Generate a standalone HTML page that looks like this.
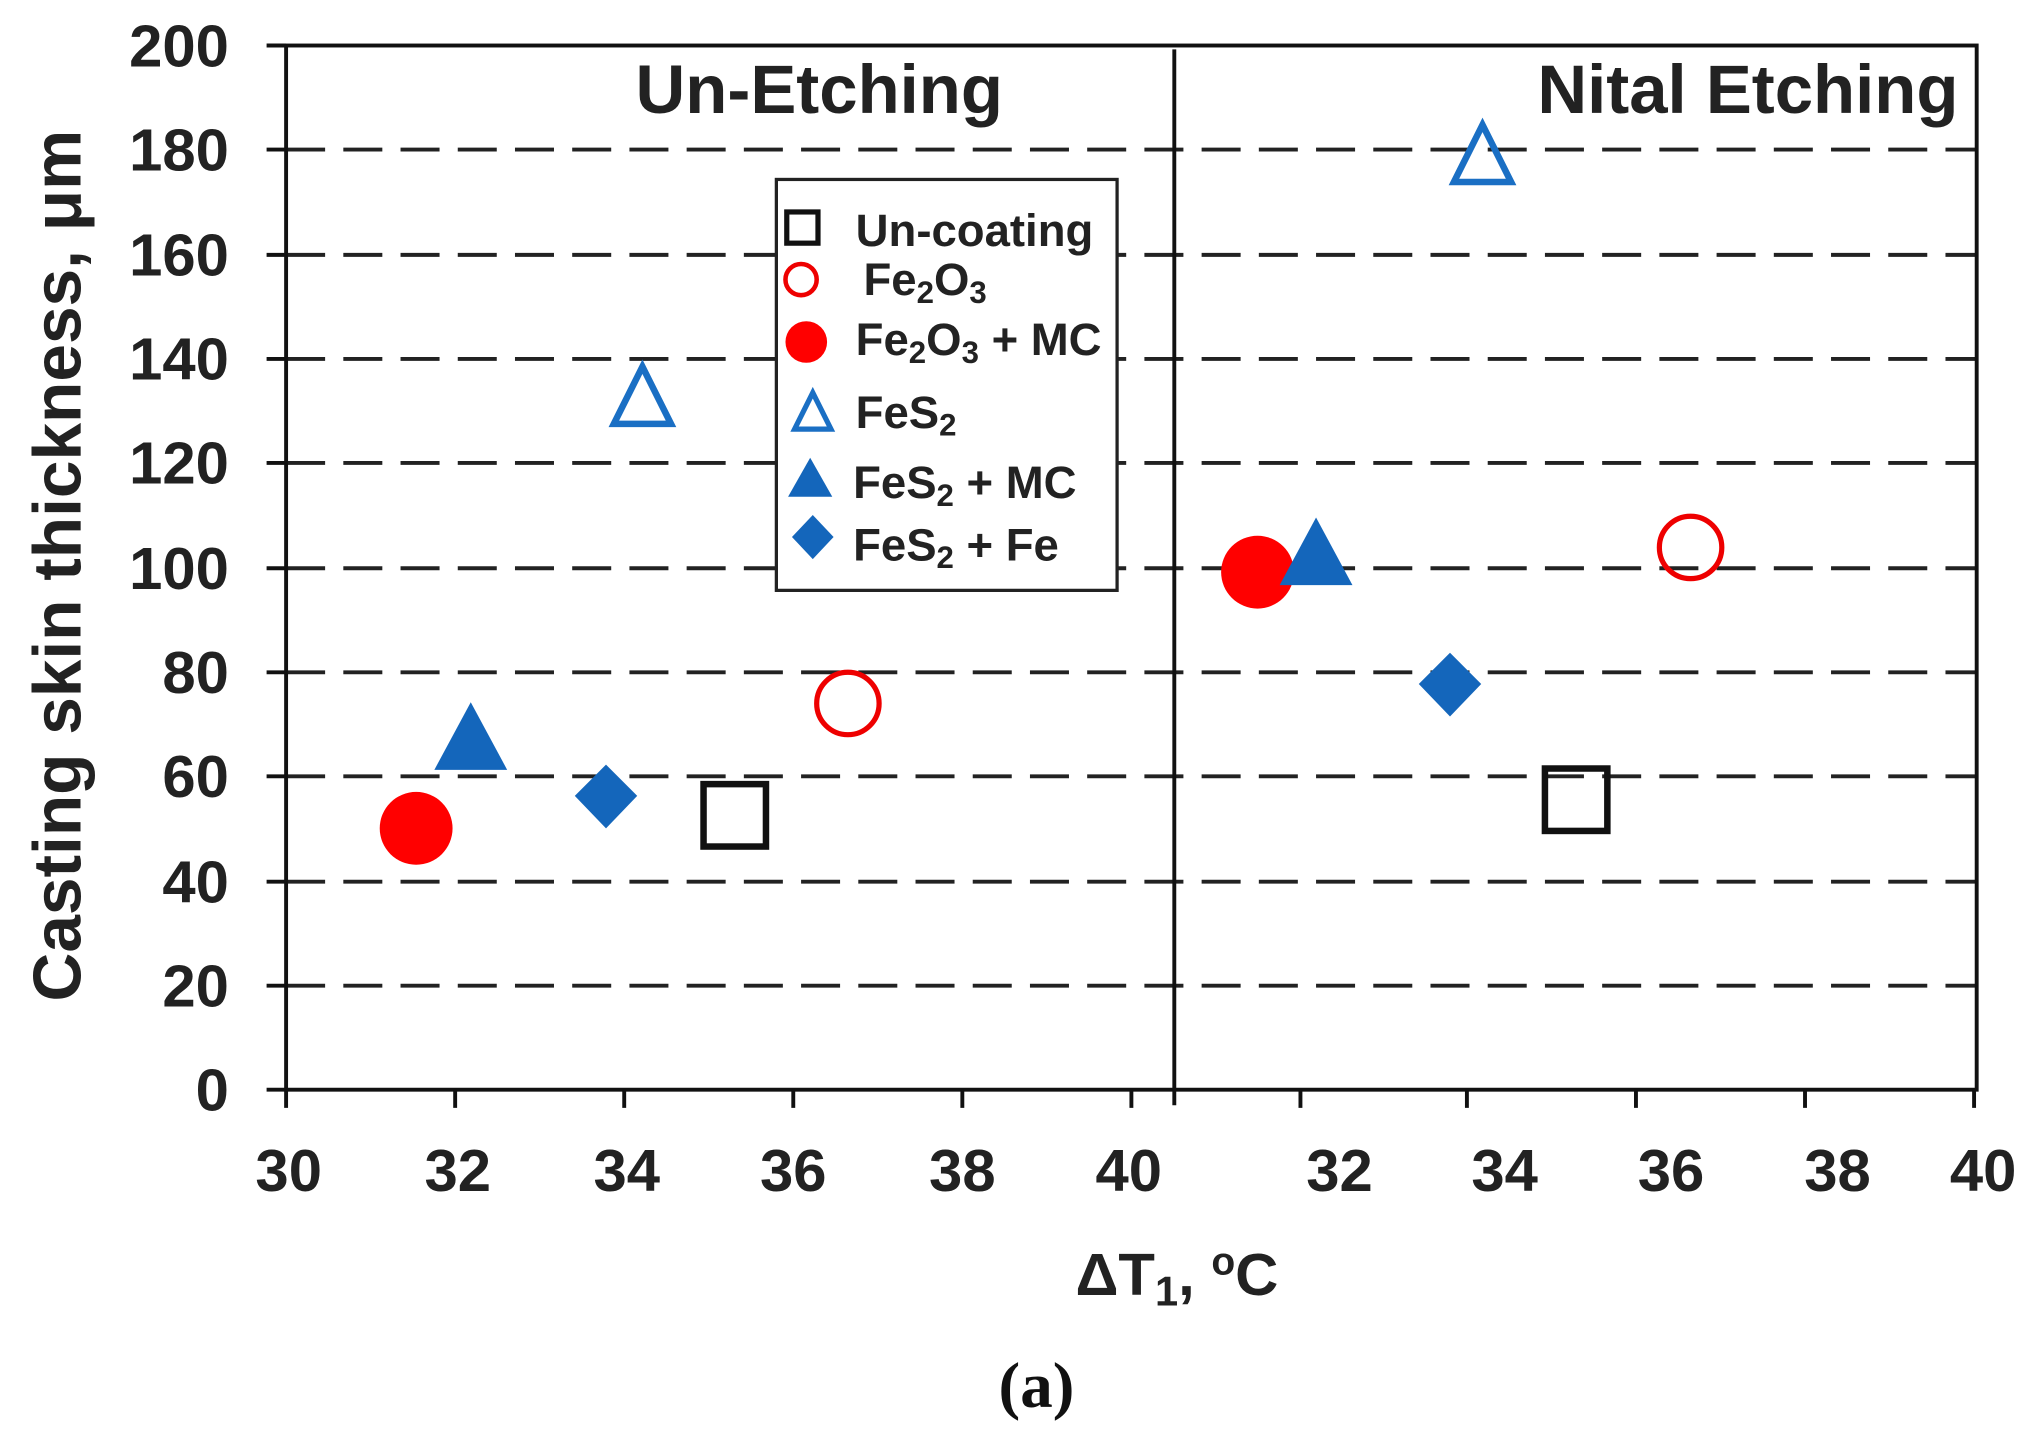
<!DOCTYPE html>
<html><head><style>body{margin:0;background:#fff}</style></head><body>
<svg width="2030" height="1433" viewBox="0 0 1561 1102" preserveAspectRatio="none" xmlns="http://www.w3.org/2000/svg" font-family="Liberation Sans, Arial, sans-serif" font-weight="bold">
<rect width="1561" height="1102" fill="#fff"/>
<g stroke="#222" stroke-width="3" stroke-dasharray="30,14">
<line x1="220" y1="115" x2="1520" y2="115"/><line x1="220" y1="196" x2="1520" y2="196"/>
<line x1="220" y1="276" x2="1520" y2="276"/><line x1="220" y1="356" x2="1520" y2="356"/>
<line x1="220" y1="437" x2="1520" y2="437"/><line x1="220" y1="517" x2="1520" y2="517"/>
<line x1="220" y1="597" x2="1520" y2="597"/><line x1="220" y1="678" x2="1520" y2="678"/>
<line x1="220" y1="758" x2="1520" y2="758"/>
</g>
<g stroke="#111" stroke-width="3" fill="none">
<rect x="220" y="35" width="1300" height="803"/>
<line x1="903" y1="38" x2="903" y2="850"/>
<path d="M205 35H220M205 115H220M205 196H220M205 276H220M205 356H220M205 437H220M205 517H220M205 597H220M205 678H220M205 758H220M205 838H220"/>
<path d="M220 838V852M350 838V852M480 838V852M610 838V852M740 838V852M870 838V852M1000 838V852M1128 838V852M1258 838V852M1388 838V852M1518 838V852"/>
</g>
<g font-size="46" text-anchor="end" fill="#222">
<text x="176" y="51">200</text><text x="176" y="131">180</text><text x="176" y="212">160</text>
<text x="176" y="292">140</text><text x="176" y="372">120</text><text x="176" y="453">100</text>
<text x="176" y="533">80</text><text x="176" y="613">60</text><text x="176" y="694">40</text>
<text x="176" y="774">20</text><text x="176" y="854">0</text>
</g>
<g font-size="46" text-anchor="middle" fill="#222">
<text x="222" y="916">30</text><text x="352" y="916">32</text><text x="482" y="916">34</text>
<text x="610" y="916">36</text><text x="740" y="916">38</text><text x="868" y="916">40</text>
<text x="1030" y="916">32</text><text x="1157" y="916">34</text><text x="1285" y="916">36</text>
<text x="1413" y="916">38</text><text x="1525" y="916">40</text>
</g>
<text x="630" y="87" font-size="53" text-anchor="middle" fill="#222">Un-Etching</text>
<text x="1506" y="87" font-size="53" text-anchor="end" fill="#222">Nital Etching</text>
<text x="905" y="996" font-size="46" text-anchor="middle" fill="#222">ΔT<tspan font-size="32" dy="8">1</tspan><tspan dy="-8">, </tspan><tspan font-size="30" dy="-16">o</tspan><tspan dy="16">C</tspan></text>
<text transform="translate(62,435) rotate(-90)" font-size="52" text-anchor="middle" fill="#222">Casting skin thickness, μm</text>
<text x="797" y="1082" font-size="50" text-anchor="middle" font-family="Liberation Serif, serif" fill="#111">(a)</text>
<!-- legend -->
<rect x="597" y="138" width="262" height="316" fill="#fff" stroke="#222" stroke-width="2.5"/>
<g font-size="35" fill="#222">
<rect x="605" y="163" width="24" height="24" fill="none" stroke="#111" stroke-width="4"/><text x="658" y="189">Un-coating</text>
<circle cx="616" cy="215" r="12" fill="none" stroke="#e00" stroke-width="3.5"/><text x="664" y="227">Fe<tspan font-size="24" dy="6">2</tspan><tspan dy="-6">O</tspan><tspan font-size="24" dy="6">3</tspan></text>
<circle cx="620" cy="263" r="16" fill="#f00"/><text x="658" y="273">Fe<tspan font-size="24" dy="6">2</tspan><tspan dy="-6">O</tspan><tspan font-size="24" dy="6">3</tspan><tspan dy="-6"> + MC</tspan></text>
<polygon points="625,302 611,330 639,330" fill="none" stroke="#1a6fc4" stroke-width="4"/><text x="658" y="329">FeS<tspan font-size="24" dy="6">2</tspan></text>
<polygon points="623,352 606,382 640,382" fill="#1466bb"/><text x="656" y="383">FeS<tspan font-size="24" dy="6">2</tspan><tspan dy="-6"> + MC</tspan></text>
<polygon points="625,396 641,413 625,430 609,413" fill="#1466bb"/><text x="656" y="431">FeS<tspan font-size="24" dy="6">2</tspan><tspan dy="-6"> + Fe</tspan></text>
</g>
<!-- data -->
<circle cx="320" cy="637" r="28" fill="#f00"/>
<polygon points="362,540 334,592 390,592" fill="#1466bb"/>
<polygon points="466,588 490,612 466,637 442,612" fill="#1466bb"/>
<rect x="541" y="603" width="48" height="48" fill="none" stroke="#111" stroke-width="5"/>
<circle cx="652" cy="541" r="24" fill="none" stroke="#e00" stroke-width="4"/>
<polygon points="494,282 472,326 516,326" fill="none" stroke="#1a6fc4" stroke-width="5"/>
<circle cx="967" cy="440" r="28" fill="#f00"/>
<polygon points="1012,398 984,450 1040,450" fill="#1466bb"/>
<polygon points="1115,502 1139,526 1115,551 1091,526" fill="#1466bb"/>
<rect x="1188" y="591" width="48" height="48" fill="none" stroke="#111" stroke-width="5"/>
<circle cx="1300" cy="421" r="24" fill="none" stroke="#e00" stroke-width="4"/>
<polygon points="1140,96 1118,140 1162,140" fill="none" stroke="#1a6fc4" stroke-width="5"/>
</svg>
</body></html>
